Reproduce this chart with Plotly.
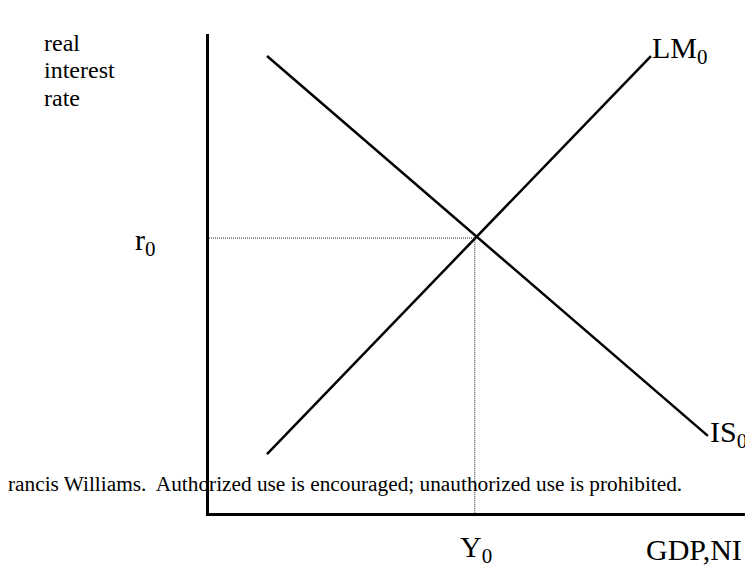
import plotly.graph_objects as go

# Curve data (arbitrary economic units: output on x, real interest rate on y)
is_x = [10.8, 92.9]
is_y = [95.4, 16.1]
lm_x = [10.8, 82.3]
lm_y = [12.3, 95.4]
eq_x = 49.5   # Y0
eq_y = 57.4   # r0

y_title = ["real", "interest", "rate"]
copyright_txt = "rancis Williams.\u00a0 Authorized use is encouraged; unauthorized use is prohibited."

FONT = "Liberation Serif, Times New Roman, serif"
W, H = 753, 567
L, R, T, B = 201, 15, 26, 62
XMAX, YMAX = 100.0, 100.0
PW, PH = W - L - R, H - T - B


def px(x):
    return (x - L) / PW


def py(y):
    return (H - B - y) / PH


fig = go.Figure()
fig.add_trace(go.Scatter(x=is_x, y=is_y, mode="lines",
                         line=dict(color="black", width=2.5), hoverinfo="skip"))
fig.add_trace(go.Scatter(x=lm_x, y=lm_y, mode="lines",
                         line=dict(color="black", width=2.5), hoverinfo="skip"))
fig.add_trace(go.Scatter(x=[0, eq_x, eq_x], y=[eq_y, eq_y, 0], mode="lines",
                         line=dict(color="#222222", width=1, dash="1px,1px"), hoverinfo="skip"))

anns = []
for i, word in enumerate(y_title):
    anns.append(dict(x=px(34), y=py(35 + 27.5 * i), text=word, xanchor="left", yanchor="middle",
                     font=dict(size=24)))
anns += [
    dict(x=px(125), y=py(234), text="r<sub>0</sub>", xanchor="left", yanchor="middle", font=dict(size=30)),
    dict(x=px(642), y=py(42), text="LM<sub>0</sub>", xanchor="left", yanchor="middle", font=dict(size=30)),
    dict(x=px(700), y=py(426), text="IS<sub>0</sub>", xanchor="left", yanchor="middle", font=dict(size=30)),
    dict(x=px(450), y=py(541), text="Y<sub>0</sub>", xanchor="left", yanchor="middle", font=dict(size=30)),
    dict(x=px(636), y=py(541), text="GDP,NI", xanchor="left", yanchor="middle", font=dict(size=30)),
    dict(x=px(-2), y=py(476), text=copyright_txt, xanchor="left", yanchor="middle", font=dict(size=21.3)),
]
for a in anns:
    a.update(xref="paper", yref="paper", showarrow=False)
    a["font"].update(family=FONT, color="black")

fig.update_layout(
    width=W, height=H,
    margin=dict(l=L, r=R, t=T, b=B, pad=0),
    paper_bgcolor="white", plot_bgcolor="white",
    showlegend=False,
    annotations=anns,
    xaxis=dict(range=[0, XMAX], showgrid=False, zeroline=False, showticklabels=False,
               ticks="", showline=True, linecolor="black", linewidth=2.5, fixedrange=True),
    yaxis=dict(range=[0, YMAX], showgrid=False, zeroline=False, showticklabels=False,
               ticks="", showline=True, linecolor="black", linewidth=2.5, fixedrange=True),
)
fig.write_html("out.html")
